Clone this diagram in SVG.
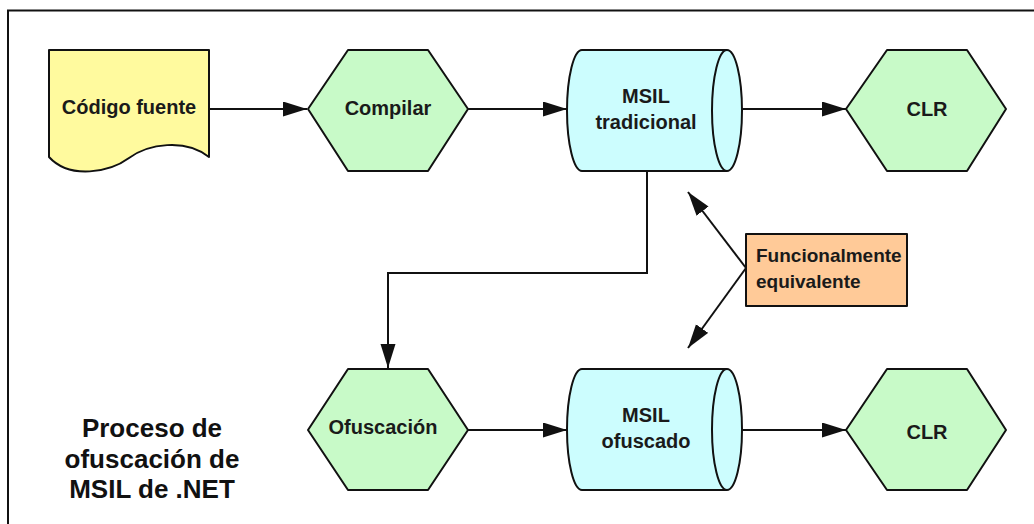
<svg xmlns="http://www.w3.org/2000/svg" width="1034" height="524" viewBox="0 0 1034 524">
  <defs>
    <style>
      .shape { stroke: #111; stroke-width: 2; stroke-linejoin: round; }
      .doc { fill: #FFFA9E; }
      .proc { fill: #C8FAC8; }
      .store { fill: #CCFDFE; }
      .note { fill: #FFCA98; }
      .lbl { font-family: "Liberation Sans", Arial, Helvetica, sans-serif; font-weight: bold; font-size: 20px; fill: #1a1a1a; text-anchor: middle; }
      .lbl-left { text-anchor: start; font-size: 19px; }
      .title { font-size: 26px; fill: #111; }
      .conn { fill: none; stroke: #111; stroke-width: 2; }
    </style>
    <marker id="arrow" markerUnits="userSpaceOnUse" markerWidth="24" markerHeight="16" refX="24" refY="7.5" orient="auto">
      <path d="M0,0 L24,7.5 L0,15 Z" fill="#111"/>
    </marker>
  </defs>

  <rect width="1034" height="524" fill="#fff"/>
  <!-- outer frame -->
  <rect x="8" y="10.5" width="1040" height="530" fill="none" stroke="#111" stroke-width="2"/>

  <!-- connectors -->
  <g id="connectors">
    <line class="conn" x1="209" y1="109" x2="307" y2="109" marker-end="url(#arrow)"/>
    <line class="conn" x1="468" y1="109" x2="567" y2="109" marker-end="url(#arrow)"/>
    <line class="conn" x1="742" y1="109" x2="846" y2="109" marker-end="url(#arrow)"/>
    <polyline class="conn" points="647,171 647,273 388,273 388,368" marker-end="url(#arrow)"/>
    <line class="conn" x1="468" y1="430" x2="567" y2="430" marker-end="url(#arrow)"/>
    <line class="conn" x1="742" y1="430" x2="846" y2="430" marker-end="url(#arrow)"/>
    <line class="conn" x1="746" y1="268" x2="688" y2="192" marker-end="url(#arrow)"/>
    <line class="conn" x1="746" y1="268" x2="688" y2="348" marker-end="url(#arrow)"/>
  </g>

  <!-- source document -->
  <g id="codigo-fuente">
    <path class="shape doc" d="M49,50 L209,50 L209,157 C185,138 148,144 129,158 C110,172 70,180 49,157 Z"/>
    <text class="lbl" x="129" y="114">Código fuente</text>
  </g>

  <g id="compilar">
    <polygon class="shape proc" points="308,109 348,50 428,50 468,109 428,171 348,171"/>
    <text class="lbl" x="388" y="115">Compilar</text>
  </g>

  <g id="msil-tradicional">
    <path class="shape store" d="M582,50 L727,50 A15,60.5 0 0 1 727,171 L582,171 A15,60.5 0 0 1 582,50 Z"/>
    <path class="shape" fill="none" d="M727,50 A15,60.5 0 0 0 727,171"/>
    <text class="lbl" x="646" y="103">MSIL</text>
    <text class="lbl" x="646" y="129">tradicional</text>
  </g>

  <g id="clr-1">
    <polygon class="shape proc" points="846,109 887,50 967,50 1006,109 967,171 887,171"/>
    <text class="lbl" x="927" y="116">CLR</text>
  </g>

  <g id="funcionalmente-equivalente">
    <rect class="shape note" x="746" y="234" width="161" height="72"/>
    <text class="lbl lbl-left" x="756" y="262">Funcionalmente</text>
    <text class="lbl lbl-left" x="756" y="288">equivalente</text>
  </g>

  <g id="ofuscacion">
    <polygon class="shape proc" points="308,430 348,369 428,369 468,430 428,490 348,490"/>
    <text class="lbl" x="383" y="434">Ofuscación</text>
  </g>

  <g id="msil-ofuscado">
    <path class="shape store" d="M582,369 L727,369 A15,60.5 0 0 1 727,490 L582,490 A15,60.5 0 0 1 582,369 Z"/>
    <path class="shape" fill="none" d="M727,369 A15,60.5 0 0 0 727,490"/>
    <text class="lbl" x="646" y="422">MSIL</text>
    <text class="lbl" x="646" y="448">ofuscado</text>
  </g>

  <g id="clr-2">
    <polygon class="shape proc" points="846,430 887,369 967,369 1006,430 967,490 887,490"/>
    <text class="lbl" x="927" y="439">CLR</text>
  </g>

  <!-- caption -->
  <g id="caption">
    <text class="lbl title" x="152" y="437">Proceso de</text>
    <text class="lbl title" x="152" y="468">ofuscación de</text>
    <text class="lbl title" x="152" y="498">MSIL de .NET</text>
  </g>
</svg>
